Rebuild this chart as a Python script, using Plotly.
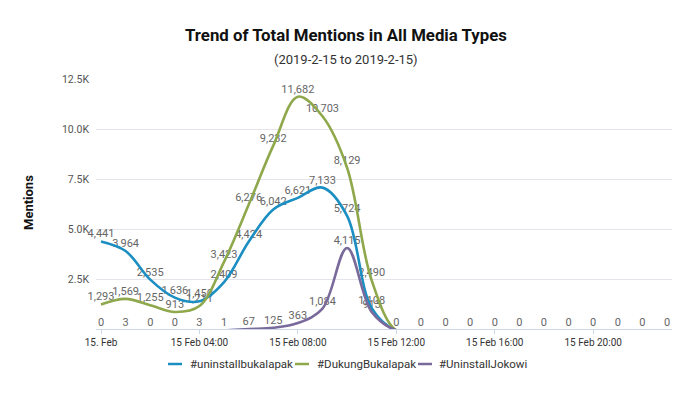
import plotly.graph_objects as go

hours = [f"2019-02-15 {h:02d}:00" for h in range(24)]
uninstall_bukalapak = [4441, 3964, 2535, 1636, 1450, 2409, 4424, 6042, 6621, 7133, 5724, 1108,
                       0, 0, 0, 0, 0, 0, 0, 0, 0, 0, 0, 0]
dukung_bukalapak = [1293, 1569, 1255, 913, 1211, 3423, 6276, 9232, 11682, 10703, 8129, 2490,
                    0, 0, 0, 0, 0, 0, 0, 0, 0, 0, 0, 0]
uninstall_jokowi = [0, 3, 0, 0, 3, 1, 67, 125, 363, 1084, 4115, 913,
                    0, 0, 0, 0, 0, 0, 0, 0, 0, 0, 0, 0]
series_names = ["#uninstallbukalapak", "#DukungBukalapak", "#UninstallJokowi"]
colors = ["#1b8ec2", "#8ea84b", "#7a6a9b"]

x_tickvals = ["2019-02-15 00:00", "2019-02-15 04:00", "2019-02-15 08:00",
              "2019-02-15 12:00", "2019-02-15 16:00", "2019-02-15 20:00"]
x_ticktext = ["15. Feb", "15 Feb 04:00", "15 Feb 08:00", "15 Feb 12:00", "15 Feb 16:00", "15 Feb 20:00"]
y_tickvals = [2500, 5000, 7500, 10000, 12500]
y_ticktext = ["2.5K", "5.0K", "7.5K", "10.0K", "12.5K"]

FONT = "Roboto"
# page body has an 8px margin; work in reference-pixel coordinates
OFF = 8
W, H = 680 - OFF, 399 - OFF
PLOT_L, PLOT_R, PLOT_T, PLOT_B = 96, 673, 79, 329  # reference pixels
L = PLOT_L - OFF
R = W - (PLOT_R - OFF)
T = PLOT_T - OFF
B = H - (PLOT_B - OFF)
PW, PH = PLOT_R - PLOT_L, PLOT_B - PLOT_T
Y_MAX = 12500
Y_SHIFT = 65  # lines' own axis is offset so their zero-level stroke sits just under the axis line


def px(xr):
    return (xr - PLOT_L) / PW


def py(yr):
    return (PLOT_B - yr) / PH


def label_texts(vals, show_all):
    return [f"{v:,}" if (show_all or i < 12) else "" for i, v in enumerate(vals)]


fig = go.Figure()
all_series = [uninstall_bukalapak, dukung_bukalapak, uninstall_jokowi]
for idx, (name, vals, col) in enumerate(zip(series_names, all_series, colors)):
    fig.add_trace(go.Scatter(
        x=hours, y=vals, name=name, mode="lines", yaxis="y2",
        line=dict(color=col, width=2.6, shape="spline", smoothing=1.0),
        showlegend=False, hoverinfo="skip",
    ))
for idx, (name, vals, col) in enumerate(zip(series_names, all_series, colors)):
    fig.add_trace(go.Scatter(
        x=hours, y=vals, name=name, mode="text",
        text=label_texts(vals, idx == 2), textposition="top center",
        textfont=dict(family=FONT, size=11, color="#666666"),
        cliponaxis=False, showlegend=False,
    ))

annotations = [
    dict(text="<b>Trend of Total Mentions in All Media Types</b>", xref="paper", yref="paper",
         x=px(346), y=py(35), xanchor="center", yanchor="middle",
         showarrow=False, font=dict(family=FONT, size=16.8, color="#111111")),
    dict(text="(2019-2-15 to 2019-2-15)", xref="paper", yref="paper",
         x=px(346), y=py(60), xanchor="center", yanchor="middle",
         showarrow=False, font=dict(family=FONT, size=13, color="#333333")),
    dict(text="<b>Mentions</b>", xref="paper", yref="paper",
         x=px(28), y=py(203), xanchor="center", yanchor="middle",
         textangle=-90, showarrow=False, font=dict(family=FONT, size=13, color="#111111")),
]
shapes = []
legend_sym_x = [168, 295, 418]
legend_txt_x = [188, 315, 437]
LEG_Y = 364
for name, col, sx, tx in zip(series_names, colors, legend_sym_x, legend_txt_x):
    shapes.append(dict(type="line", xref="paper", yref="paper",
                       x0=px(sx), x1=px(sx + 14), y0=py(LEG_Y), y1=py(LEG_Y),
                       line=dict(color=col, width=2.5)))
    annotations.append(dict(text=name, xref="paper", yref="paper", x=px(tx), y=py(LEG_Y),
                            xanchor="left", yanchor="middle", showarrow=False,
                            font=dict(family=FONT, size=11.5, color="#333333")))

fig.update_layout(
    width=W, height=H,
    margin=dict(l=L, r=R, t=T, b=B, autoexpand=False),
    paper_bgcolor="white", plot_bgcolor="white",
    font=dict(family=FONT, color="#333333"),
    showlegend=False,
    xaxis=dict(
        range=["2019-02-14 23:47:48", "2019-02-15 23:14:38"],
        tickvals=x_tickvals, ticktext=x_ticktext,
        showgrid=False, showline=True, linecolor="#ccd6eb", linewidth=1,
        ticks="outside", ticklen=4, tickcolor="#ccd6eb",
        tickfont=dict(family=FONT, size=10, color="#333333"),
        layer="above traces", zeroline=False,
    ),
    yaxis=dict(
        range=[0, Y_MAX], tickvals=y_tickvals, ticktext=y_ticktext,
        showgrid=True, gridcolor="#e4e4ea", gridwidth=1,
        zeroline=False, showline=False, ticks="",
        tickfont=dict(family=FONT, size=10.5, color="#555555"),
        ticklabelstandoff=6,
    ),
    yaxis2=dict(
        range=[Y_SHIFT, Y_MAX + Y_SHIFT], overlaying="y", side="left",
        showgrid=False, showticklabels=False, zeroline=False, showline=False, ticks="",
    ),
    annotations=annotations,
    shapes=shapes,
)

fig.write_html("out.html")
